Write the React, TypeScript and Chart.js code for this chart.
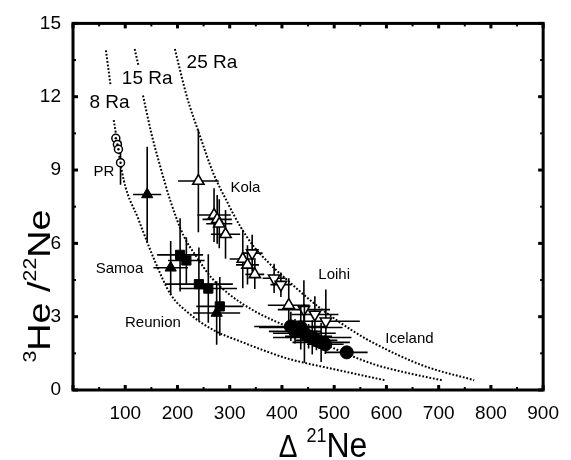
import React, { useEffect, useRef } from "react";
import { Chart, registerables } from "chart.js";

Chart.register(...registerables);

const FONT = "'Liberation Sans', Arial, sans-serif";

// axis ticks
const xTickValues = [0, 100, 200, 300, 400, 500, 600, 700, 800, 900];
const yTickValues = [0, 3, 6, 9, 12, 15];

// model curves (Ra)
const ra8UpperX = [63, 72];
const ra8UpperY = [13.9, 12.45];
const ra8X = [78, 97, 125, 157, 187, 224, 269, 325, 374, 412, 500, 575, 597];
const ra8Y = [11.04, 8.6, 7.0, 5.26, 3.91, 3.1, 2.45, 1.95, 1.55, 1.28, 0.85, 0.5, 0.4];

const ra15UpperX = [118, 125];
const ra15UpperY = [13.95, 13.3];
const ra15X = [134, 150, 165, 187, 212, 235, 265, 300, 350, 420, 500, 575, 640, 706];
const ra15Y = [12.05, 10.5, 9.3, 7.7, 6.3, 5.5, 4.6, 3.9, 3.2, 2.5, 1.7, 1.06, 0.7, 0.4];

const ra25X = [195, 218, 243, 268, 295, 320, 345, 375, 410, 470, 537, 575, 670, 768];
const ra25Y = [13.95, 12.0, 10.4, 8.9, 7.7, 6.7, 5.9, 5.2, 4.5, 3.4, 2.4, 1.93, 1.0, 0.4];

// PR (dotted circles)
const prX = [82, 85, 87, 91];
const prY = [10.3, 10.05, 9.85, 9.3];
const prXErr = [0, 0, 0, 0];
const prYErr = [0, 0, 0, 0.9];

// Samoa (filled triangles)
const samoaX = [142, 187, 275];
const samoaY = [8.0, 5.0, 3.15];
const samoaXErr = [27, 33, 45];
const samoaYErr = [1.95, 1.1, 1.3];

// Reunion (filled squares)
const reunionX = [205, 217, 241, 259, 281];
const reunionY = [5.53, 5.3, 4.33, 4.15, 3.42];
const reunionXErr = [44, 35, 65, 55, 45];
const reunionYErr = [1.5, 0.95, 1.5, 1.4, 1.2];

// Kola (open triangles)
const kolaX = [240, 270, 276, 280, 292, 325, 334, 348, 413];
const kolaY = [8.55, 7.16, 6.98, 6.8, 6.37, 5.36, 5.12, 4.73, 3.47];
const kolaXErr = [39, 32, 28, 25, 28, 25, 22, 18, 40];
const kolaYErr = [2.1, 1.1, 1.0, 1.0, 1.0, 1.2, 0.8, 0.6, 1.1];

// Loihi (open inverted triangles)
const loihiX = [343, 385, 398, 442, 463, 484];
const loihiY = [5.6, 4.57, 4.31, 3.29, 3.09, 2.81];
const loihiXErr = [20, 22, 20, 50, 45, 65];
const loihiYErr = [0.75, 0.6, 0.5, 1.2, 0.75, 1.3];

// Iceland (filled circles)
const icelandX = [417, 436, 425, 443, 451, 458, 466, 475, 483, 524];
const icelandY = [2.6, 2.56, 2.4, 2.32, 2.2, 2.15, 2.03, 1.95, 1.87, 1.54];
const icelandXErr = [70, 80, 50, 60, 45, 75, 40, 55, 35, 40];
const icelandYErr = [0.6, 0.9, 0.5, 1.2, 0.5, 0.7, 0.4, 0.8, 0.4, 0.25];

// text annotations (data coordinates)
const curveLabels = ["8 Ra", "15 Ra", "25 Ra"];
const curveLabelX = [70, 142, 266];
const curveLabelY = [11.74, 12.72, 13.37];
const groupLabels = ["PR", "Kola", "Samoa", "Reunion", "Loihi", "Iceland"];
const groupLabelX = [59, 330, 89, 153, 500, 644];
const groupLabelY = [8.93, 8.28, 4.97, 2.73, 4.73, 2.08];

const pts = (xs: number[], ys: number[]) => xs.map((x, i) => ({ x, y: ys[i] }));

const errorBarPlugin = {
  id: "errorBars",
  beforeDatasetDraw(chart: any, args: any) {
    const ds = chart.data.datasets[args.index];
    if (!ds.xerr && !ds.yerr) return;
    const { ctx, chartArea, scales } = chart;
    const xs = scales.x, ys = scales.y;
    ctx.save();
    ctx.beginPath();
    ctx.rect(chartArea.left, chartArea.top, chartArea.right - chartArea.left, chartArea.bottom - chartArea.top);
    ctx.clip();
    ctx.strokeStyle = "#000";
    ctx.lineWidth = 1.6;
    ctx.setLineDash([]);
    ds.data.forEach((p: any, i: number) => {
      const px = xs.getPixelForValue(p.x);
      const py = ys.getPixelForValue(p.y);
      const xe = ds.xerr ? ds.xerr[i] : 0;
      const ye = ds.yerr ? ds.yerr[i] : 0;
      ctx.beginPath();
      if (xe) {
        ctx.moveTo(xs.getPixelForValue(p.x - xe), py);
        ctx.lineTo(xs.getPixelForValue(p.x + xe), py);
      }
      if (ye) {
        ctx.moveTo(px, ys.getPixelForValue(p.y - ye));
        ctx.lineTo(px, ys.getPixelForValue(p.y + ye));
      }
      ctx.stroke();
    });
    ctx.restore();
  },
};

const framePlugin = {
  id: "frame",
  afterDatasetsDraw(chart: any) {
    const { ctx, chartArea, scales } = chart;
    const { left, right, top, bottom } = chartArea;
    const xs = scales.x, ys = scales.y;
    ctx.save();
    ctx.fillStyle = "#000";
    // minor + major ticks, inward, on all four sides
    for (let v = 0; v <= 900; v += 50) {
      const px = xs.getPixelForValue(v);
      const major = v % 100 === 0;
      const w = major ? 3 : 2;
      const l = major ? 5 : 3;
      ctx.fillRect(px - w / 2, bottom - l, w, l);
      ctx.fillRect(px - w / 2, top, w, l);
    }
    for (let v = 0; v <= 15; v += 1.5) {
      const py = ys.getPixelForValue(v);
      const major = Math.abs(v % 3) < 1e-6;
      const w = major ? 3 : 2;
      const l = major ? 5 : 3;
      ctx.fillRect(left, py - w / 2, l, w);
      ctx.fillRect(right - l, py - w / 2, l, w);
    }
    ctx.strokeStyle = "#000";
    ctx.lineWidth = 3;
    ctx.strokeRect(left, top, right - left, bottom - top);

    // annotations
    ctx.textAlign = "center";
    ctx.textBaseline = "middle";
    ctx.font = `19px ${FONT}`;
    curveLabels.forEach((t, i) => {
      ctx.fillText(t, xs.getPixelForValue(curveLabelX[i]), ys.getPixelForValue(curveLabelY[i]));
    });
    ctx.font = `15px ${FONT}`;
    groupLabels.forEach((t, i) => {
      ctx.fillText(t, xs.getPixelForValue(groupLabelX[i]), ys.getPixelForValue(groupLabelY[i]));
    });
    ctx.restore();
  },
  afterDraw(chart: any) {
    const { ctx, chartArea } = chart;
    ctx.save();
    ctx.fillStyle = "#000";
    ctx.textBaseline = "alphabetic";
    ctx.textAlign = "left";
    // x title: Δ 21Ne
    const cx = (chartArea.left + chartArea.right) / 2 + 15;
    const base = 457;
    ctx.font = `28px ${FONT}`;
    const wD = ctx.measureText("\u0394").width;
    ctx.font = `18px ${FONT}`;
    const w21 = ctx.measureText("21").width;
    ctx.font = `32px ${FONT}`;
    const wNe = ctx.measureText("Ne").width;
    const gap = 9;
    let x0 = cx - (wD + gap + w21 + wNe) / 2;
    ctx.save();
    ctx.translate(0, base);
    ctx.scale(1, 1.12);
    ctx.font = `28px ${FONT}`;
    ctx.fillText("\u0394", x0, 0);
    ctx.font = `18px ${FONT}`;
    ctx.fillText("21", x0 + wD + gap, -13);
    ctx.font = `32px ${FONT}`;
    ctx.fillText("Ne", x0 + wD + gap + w21, 0);
    ctx.restore();

    // y title: 3He /22Ne (rotated)
    ctx.save();
    ctx.translate(50, 286);
    ctx.rotate(-Math.PI / 2);
    ctx.scale(1.18, 1);
    ctx.font = `18px ${FONT}`;
    const w3 = ctx.measureText("3").width;
    const w22 = ctx.measureText("22").width;
    ctx.font = `32px ${FONT}`;
    const wHe = ctx.measureText("He /").width;
    const wNe2 = ctx.measureText("Ne").width;
    let y0 = -(w3 + wHe + w22 + wNe2) / 2;
    ctx.font = `18px ${FONT}`;
    ctx.fillText("3", y0, -14);
    ctx.font = `32px ${FONT}`;
    ctx.fillText("He /", y0 + w3, 0);
    ctx.font = `18px ${FONT}`;
    ctx.fillText("22", y0 + w3 + wHe, -14);
    ctx.font = `32px ${FONT}`;
    ctx.fillText("Ne", y0 + w3 + wHe + w22, 0);
    ctx.restore();
    ctx.restore();
  },
};

export default function App() {
  const ref = useRef<HTMLCanvasElement | null>(null);
  useEffect(() => {
    if (!ref.current) return;
    const curve = {
      type: "scatter",
      showLine: true,
      borderColor: "#000",
      borderWidth: 2,
      borderDash: [1.8, 1.8],
      pointRadius: 0,
      cubicInterpolationMode: "monotone",
      fill: false,
    };
    const chart = new Chart(ref.current, {
      type: "scatter",
      data: {
        datasets: [
          {
            label: "PR dot",
            data: pts(prX, prY),
            pointStyle: "circle",
            pointRadius: 1.2,
            backgroundColor: "#000",
            borderColor: "#000",
            borderWidth: 0,
          },
          {
            label: "PR",
            data: pts(prX, prY),
            xerr: prXErr,
            yerr: prYErr,
            pointStyle: "circle",
            pointRadius: 4,
            backgroundColor: "#fff",
            borderColor: "#000",
            borderWidth: 1.5,
          },
          {
            label: "Iceland",
            data: pts(icelandX, icelandY),
            xerr: icelandXErr,
            yerr: icelandYErr,
            pointStyle: "circle",
            pointRadius: 6.5,
            backgroundColor: "#000",
            borderColor: "#000",
            borderWidth: 1,
          },
          {
            label: "Loihi",
            data: pts(loihiX, loihiY),
            xerr: loihiXErr,
            yerr: loihiYErr,
            pointStyle: "triangle",
            rotation: 180,
            pointRadius: 6.5,
            backgroundColor: "#fff",
            borderColor: "#000",
            borderWidth: 1.6,
          },
          {
            label: "Kola",
            data: pts(kolaX, kolaY),
            xerr: kolaXErr,
            yerr: kolaYErr,
            pointStyle: "triangle",
            pointRadius: 6.5,
            backgroundColor: "#fff",
            borderColor: "#000",
            borderWidth: 1.6,
          },
          {
            label: "Reunion",
            data: pts(reunionX, reunionY),
            xerr: reunionXErr,
            yerr: reunionYErr,
            pointStyle: "rect",
            pointRadius: 6.5,
            backgroundColor: "#000",
            borderColor: "#000",
            borderWidth: 1,
          },
          {
            label: "Samoa",
            data: pts(samoaX, samoaY),
            xerr: samoaXErr,
            yerr: samoaYErr,
            pointStyle: "triangle",
            pointRadius: 6.5,
            backgroundColor: "#000",
            borderColor: "#000",
            borderWidth: 1,
          },
          { ...curve, label: "8 Ra a", data: pts(ra8UpperX, ra8UpperY) },
          { ...curve, label: "8 Ra", data: pts(ra8X, ra8Y) },
          { ...curve, label: "15 Ra a", data: pts(ra15UpperX, ra15UpperY) },
          { ...curve, label: "15 Ra", data: pts(ra15X, ra15Y) },
          { ...curve, label: "25 Ra", data: pts(ra25X, ra25Y) },
        ] as any,
      },
      options: {
        animation: false,
        responsive: false,
        devicePixelRatio: 1,
        layout: { padding: { top: 21, right: 17.5, left: 0, bottom: 0 } },
        plugins: { legend: { display: false }, tooltip: { enabled: false } },
        scales: {
          x: {
            type: "linear",
            min: 0,
            max: 900,
            afterBuildTicks: (s: any) => {
              s.ticks = xTickValues.map((v) => ({ value: v }));
            },
            afterFit: (s: any) => {
              s.height = 70;
            },
            ticks: {
              color: "#000",
              font: { family: FONT, size: 19 },
              padding: 12,
              callback: (v: any) => (v === 0 ? "" : String(v)),
            },
            grid: { display: false, drawTicks: false },
            border: { display: false },
          },
          y: {
            type: "linear",
            min: 0,
            max: 15,
            afterBuildTicks: (s: any) => {
              s.ticks = yTickValues.map((v) => ({ value: v }));
            },
            afterFit: (s: any) => {
              s.width = 73;
            },
            ticks: {
              color: "#000",
              font: { family: FONT, size: 19 },
              padding: 12,
            },
            grid: { display: false, drawTicks: false },
            border: { display: false },
          },
        },
      } as any,
      plugins: [errorBarPlugin, framePlugin],
    });
    return () => chart.destroy();
  }, []);
  return (
    <div style={{ position: "absolute", left: 0, top: 0, width: 571, height: 460, background: "#fff" }}>
      <canvas ref={ref} width={571} height={460} style={{ width: 571, height: 460 }} />
    </div>
  );
}
